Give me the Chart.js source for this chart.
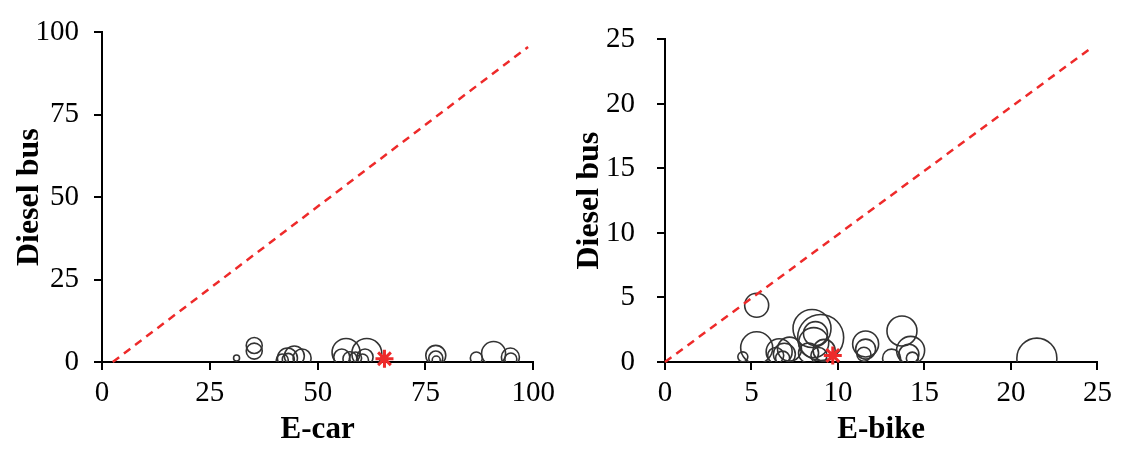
<!DOCTYPE html>
<html>
<head>
<meta charset="utf-8">
<script src="https://cdn.jsdelivr.net/npm/chart.js@4/dist/chart.umd.min.js"></script>
<style>
  html, body { margin: 0; padding: 0; background: #fff; }
  #wrap { position: relative; width: 1122px; height: 464px; overflow: hidden; }
  canvas { position: absolute; top: 0; }
</style>
</head>
<body>
<div id="wrap">
  <canvas id="c1" width="561" height="464" style="left:0"></canvas>
  <canvas id="c2" width="561" height="464" style="left:561px"></canvas>
</div>
<script>
// ---- Left panel: E-car vs Diesel bus ----
const carX    = [31.2, 35.3, 35.3, 41.8, 43.0, 44.6, 46.4, 43.2, 56.6, 55.6, 57.5, 61.4, 58.8, 61.0, 60.4, 77.4, 77.4, 77.5, 86.8, 90.8, 94.7, 94.8];
const carY    = [1.2, 5.0, 3.3, 0.6, 1.2, 1.8, 1.2, 0.8, 2.9, 1.5, 1.0, 2.6, 1.2, 1.5, 0.6, 2.0, 1.2, 0.6, 1.2, 2.6, 1.5, 0.9];
const carSize = [3, 8, 8, 6, 10, 10, 9, 6, 14, 8, 7, 15, 6, 8, 6, 10, 7, 4, 6, 12, 9, 6];
const carLine = { x: [2.5, 98.8], y: [0, 95.6] };
const carStar = { x: 65.5, y: 1.0 };
const carTicksX = [0, 25, 50, 75, 100];
const carTicksY = [0, 25, 50, 75, 100];

// ---- Right panel: E-bike vs Diesel bus ----
const bikeX    = [5.3, 5.3, 4.5, 6.6, 6.9, 6.4, 7.2, 6.8, 8.5, 9.0, 8.7, 8.6, 8.3, 8.9, 9.2, 11.6, 11.6, 11.5, 13.7, 14.2, 14.1, 13.1, 14.3, 21.5];
const bikeY    = [4.4, 1.1, 0.4, 0.8, 0.6, 0.5, 1.0, 0.3, 2.6, 1.9, 2.2, 1.5, 0.7, 0.5, 0.9, 1.4, 1.0, 0.6, 2.4, 0.9, 0.6, 0.3, 0.3, 0.3];
const bikeSize = [12, 16, 5, 13, 11, 8, 12, 7, 19, 23, 12, 15, 10, 8, 11, 13, 10, 7, 15, 14, 10, 9, 6, 20];
const bikeLine = { x: [0, 24.5], y: [0, 24.2] };
const bikeStar = { x: 9.7, y: 0.5 };
const bikeTicksX = [0, 5, 10, 15, 20, 25];
const bikeTicksY = [0, 5, 10, 15, 20, 25];

const FONT = "'Liberation Serif', 'Times New Roman', serif";
const BUBBLE_COLOR = '#333333';
const RED = '#ee2a2a';

function makeChart(canvasId, xs, ys, sizes, line, star, ticksX, ticksY, xTitle, yTitle, geom) {
  const bubbles = xs.map((x, i) => ({ x: x, y: ys[i], r: sizes[i] }));
  const linePts = line.x.map((x, i) => ({ x: x, y: line.y[i] }));
  const maxX = ticksX[ticksX.length - 1];
  const maxY = ticksY[ticksY.length - 1];
  return new Chart(document.getElementById(canvasId), {
    type: 'bubble',
    data: {
      datasets: [
        {
          type: 'bubble',
          data: bubbles,
          backgroundColor: 'rgba(0,0,0,0)',
          borderColor: BUBBLE_COLOR,
          borderWidth: 1.6,
          clip: { left: false, top: false, right: false, bottom: 0 },
          order: 3
        },
        {
          type: 'line',
          data: linePts,
          borderColor: RED,
          borderWidth: 2.5,
          borderDash: [8, 6],
          pointRadius: 0,
          fill: false,
          clip: false,
          order: 2
        },
        {
          type: 'scatter',
          data: [star],
          pointStyle: 'star',
          pointRadius: 9,
          borderColor: RED,
          backgroundColor: RED,
          borderWidth: 3,
          clip: false,
          order: 1
        }
      ]
    },
    options: {
      responsive: false,
      animation: false,
      events: [],
      layout: { padding: { top: geom.top, right: geom.right, left: 0, bottom: 0 } },
      plugins: { legend: { display: false }, tooltip: { enabled: false } },
      scales: {
        x: {
          type: 'linear',
          min: 0, max: maxX,
          afterBuildTicks: s => { s.ticks = ticksX.map(v => ({ value: v })); },
          afterFit: s => { s.height = 102; },
          ticks: { font: { family: FONT, size: 29 }, color: '#000', padding: 6, maxRotation: 0 },
          grid: { drawOnChartArea: false, drawTicks: true, tickLength: 8, color: '#000', lineWidth: 2 },
          border: { color: '#000', width: 2 },
          title: { display: true, text: xTitle, color: '#000',
                   font: { family: FONT, size: 31, weight: 'bold' },
                   padding: { top: 0, bottom: 15 } }
        },
        y: {
          type: 'linear',
          min: 0, max: maxY,
          afterBuildTicks: s => { s.ticks = ticksY.map(v => ({ value: v })); },
          afterFit: s => { s.width = geom.yWidth; },
          ticks: { font: { family: FONT, size: 29 }, color: '#000', padding: geom.yPad },
          grid: { drawOnChartArea: false, drawTicks: true, tickLength: 8, color: '#000', lineWidth: 2 },
          border: { color: '#000', width: 2 },
          title: { display: true, text: yTitle, color: '#000',
                   font: { family: FONT, size: 32, weight: 'bold' },
                   padding: { top: geom.yTitlePad, bottom: 0 } }
        }
      }
    }
  });
}

makeChart('c1', carX, carY, carSize, carLine, carStar, carTicksX, carTicksY, 'E-car', 'Diesel bus',
  { top: 22, right: 26, yWidth: 102, yPad: 15, yTitlePad: 11 });
makeChart('c2', bikeX, bikeY, bikeSize, bikeLine, bikeStar, bikeTicksX, bikeTicksY, 'E-bike', 'Diesel bus',
  { top: 24, right: 23, yWidth: 104, yPad: 22, yTitlePad: 10 });
</script>
</body>
</html>
